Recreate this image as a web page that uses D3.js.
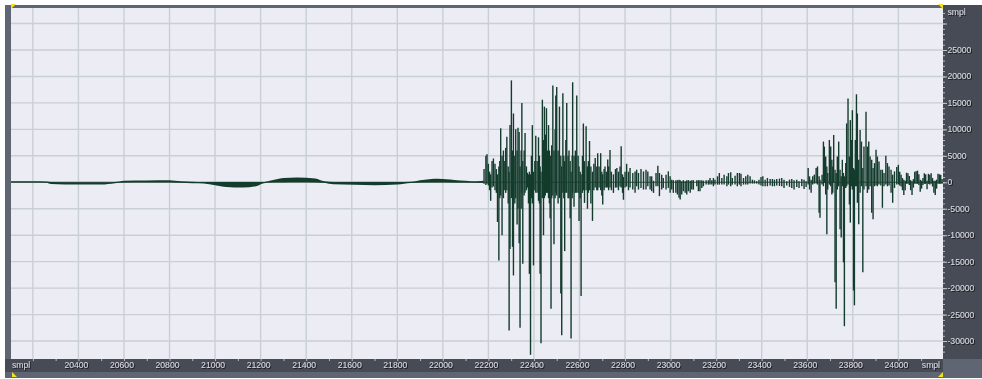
<!DOCTYPE html>
<html>
<head>
<meta charset="utf-8">
<script src="https://cdn.jsdelivr.net/npm/d3@7"></script>
<style>
  body { margin: 0; background: #fff; }
  svg { display: block; }
</style>
</head>
<body>
<svg></svg>
<script>
// axis values
var xGridValues = [20200, 20400, 20600, 20800, 21000, 21200, 21400, 21600, 21800, 22000, 22200, 22400, 22600, 22800, 23000, 23200, 23400, 23600, 23800, 24000]
var xTickLabels = [20400, 20600, 20800, 21000, 21200, 21400, 21600, 21800, 22000, 22200, 22400, 22600, 22800, 23000, 23200, 23400, 23600, 23800, 24000]
var yGridValues = [30000, 25000, 20000, 15000, 10000, 5000, 0, -5000, -10000, -15000, -20000, -25000, -30000]
var yTickLabels = [25000, 20000, 15000, 10000, 5000, 0, -5000, -10000, -15000, -20000, -25000, -30000]
var unitLabel = "smpl"

// quiet part, envelope (sample, max, min)
var quietSamples = [20104, 20200, 20260, 20280, 20400, 20500, 20560, 20600, 20700, 20800, 20850, 20900, 20950, 21000, 21050, 21120, 21180, 21210, 21240, 21300, 21360, 21440, 21480, 21520, 21700, 21800, 21860, 21900, 21980, 22050, 22150, 22180]
var quietMax =     [150, 150, 100, 0, -50, -50, 0, 250, 300, 350, 150, 50, 0, 0, 0, 0, 0, 0, 250, 750, 880, 700, 150, 0, 0, 0, 50, 350, 630, 400, 150, 250]
var quietMin =     [0, 0, -50, -300, -400, -400, -150, 0, 50, 50, -50, -150, -200, -500, -850, -950, -700, -200, 0, 50, 100, 50, -50, -350, -500, -400, -100, 0, 50, 0, -50, -100]

// loud part, one column per entry
var waveSamples = [
  22181, 22189, 22194, 22200, 22205, 22210, 22216, 22222, 22229, 22235, 22240, 22246, 22250, 22254, 22260, 22266, 22272, 22276, 22281, 22287,
  22291, 22295, 22301, 22306, 22310, 22316, 22320, 22326, 22330, 22335, 22339, 22344, 22347, 22351, 22357, 22361, 22367, 22371, 22376, 22380,
  22385, 22389, 22393, 22398, 22404, 22408, 22414, 22420, 22424, 22427, 22431, 22437, 22442, 22446, 22450, 22455, 22459, 22464, 22468, 22471,
  22475, 22478, 22483, 22488, 22493, 22496, 22500, 22506, 22512, 22518, 22522, 22527, 22531, 22535, 22540, 22544, 22550, 22554, 22559, 22563,
  22568, 22570, 22576, 22582, 22588, 22594, 22598, 22603, 22607, 22613, 22617, 22622, 22629, 22635, 22639, 22644, 22650, 22657, 22663, 22669,
  22676, 22680, 22686, 22693, 22698, 22702, 22708, 22712, 22718, 22724, 22728, 22734, 22740, 22749, 22758, 22764, 22771, 22778, 22783, 22789,
  22793, 22800, 22807, 22815, 22822, 22834, 22844, 22851, 22859, 22870, 22881, 22892, 22900, 22910, 22917, 22925, 22936, 22944, 22951, 22961,
  22968, 22980, 22990, 22998, 23005, 23012, 23023, 23030, 23037, 23042, 23049, 23056, 23064, 23071, 23078, 23086, 23093, 23100, 23115, 23122,
  23129, 23137, 23144, 23156, 23166, 23173, 23181, 23188, 23195, 23206, 23214, 23225, 23235, 23247, 23254, 23264, 23271, 23283, 23293, 23302,
  23309, 23320, 23330, 23339, 23349, 23359, 23368, 23378, 23388, 23397, 23405, 23415, 23425, 23437, 23447, 23456, 23466, 23478, 23488, 23498,
  23510, 23522, 23532, 23542, 23554, 23564, 23576, 23586, 23595, 23604, 23610, 23617, 23624, 23631, 23639, 23645, 23652, 23656, 23665, 23671,
  23675, 23681, 23686, 23690, 23697, 23703, 23708, 23712, 23716, 23722, 23727, 23732, 23738, 23744, 23749, 23754, 23759, 23763, 23769, 23773,
  23779, 23785, 23789, 23794, 23798, 23803, 23807, 23811, 23816, 23820, 23826, 23832, 23838, 23844, 23849, 23858, 23864, 23870, 23876, 23883,
  23889, 23895, 23902, 23908, 23915, 23923, 23930, 23937, 23945, 23952, 23959, 23968, 23975, 23983, 23993, 24000, 24006, 24012, 24018, 24024,
  24030, 24036, 24042, 24048, 24054, 24060, 24066, 24072, 24078, 24084, 24090, 24096, 24102, 24108, 24114, 24120, 24126, 24132, 24138, 24144,
  24150, 24156, 24162, 24168, 24174, 24180, 24186, 24192
]
var waveMax = [
  2500, 5000, 5300, 3500, 2000, 1500, 4000, 4500, 3500, 2500, 1500, 3000, 4000, 10200, 5000, 6000, 4000, 6500, 8600, 3000,
  2000, 10800, 19250, 6000, 13000, 5000, 10000, 6000, 10300, 9500, 3000, 6000, 15000, 4000, 6000, 9300, 3000, 1800, 1500, 2000,
  1500, 5000, 10800, 2000, 4000, 8800, 4000, 8500, 5000, 3000, 2000, 15600, 8000, 14300, 9000, 14000, 6000, 10800, 6000, 5000,
  5000, 7000, 18300, 6000, 10000, 16400, 18000, 6000, 14300, 5000, 3000, 16800, 5000, 4000, 8000, 15000, 5000, 6000, 4000, 2000,
  5000, 18900, 5000, 6000, 16400, 5000, 3000, 2000, 1500, 5000, 11100, 4000, 10600, 3000, 4000, 7800, 3000, 2000, 3500, 4600,
  3000, 5500, 3000, 5500, 2000, 1500, 2500, 3000, 2000, 4300, 3000, 6100, 2000, 1500, 2500, 2700, 2000, 3000, 6800, 1500,
  1000, 2000, 3500, 2000, 2700, 1750, 2060, 2375, 1750, 2500, 2060, 2375, 2060, 1125, 1125, 300, 1750, 3125, 1750, 1440,
  810, 1440, 2060, 1125, 500, 400, 400, 400, 500, 400, 200, 400, 200, 400, 400, 300, 400, 400, 400, 400,
  400, 400, 300, 400, 400, 810, 400, 810, 500, 1125, 1750, 810, 1440, 1125, 1750, 1875, 810, 1250, 1750, 1750,
  1625, 810, 1125, 1440, 1125, 500, 375, 200, 500, 1000, 1125, 500, 810, 625, 625, 500, 625, 700, 810, 500,
  190, 500, 625, 375, 500, 190, 625, 500, 200, 2690, 1125, 500, 1125, 1440, 2690, 3000, 1125, 500, 1440, 7690,
  6750, 4875, 3000, 1750, 8000, 6750, 4250, 3000, 8940, 2375, 1750, 4875, 7690, 2375, 1125, 4250, 1750, 1125, 3625, 11125,
  15810, 4875, 11750, 8000, 13625, 2690, 2375, 8000, 16625, 13000, 4250, 9875, 7690, 2690, 6750, 13310, 6750, 7690, 4875, 4250,
  2690, 3625, 6125, 4875, 3940, 2375, 2375, 1750, 5000, 3625, 3000, 2375, 1440, 2060, 2875, 3300, 2000, 1400, 800, 500,
  300, 1800, 1700, 1200, 400, 200, 600, 2000, 2100, 2200, 1500, 500, 300, 800, 1700, 1500, 300, 1600, 1400, 1700,
  800, 300, 300, 500, 1600, 1500, 1400, 600
]
var waveMin = [
  -300, -500, -300, -600, -1500, -3500, -1000, -800, -1500, -2000, -7500, -14800, -3000, -2500, -10000, -3000, -1500, -2000, -1500, -4000,
  -28000, -12600, -3000, -12200, -17600, -4000, -3000, -8000, -5000, -11500, -27500, -5000, -2000, -15400, -2500, -2000, -1500, -1000, -4000, -17300,
  -32600, -3000, -4000, -15700, -1500, -2000, -2000, -3500, -4000, -17300, -30400, -3000, -10000, -3000, -2500, -2000, -2000, -3000, -4000, -6800,
  -23900, -3000, -2500, -11700, -3000, -2000, -2500, -4000, -3000, -21000, -28900, -2000, -3000, -13000, -2000, -2000, -3000, -3000, -6800, -29500,
  -3000, -2000, -4600, -2000, -2000, -2000, -7300, -3000, -21500, -2000, -1500, -3900, -1500, -5000, -2000, -1500, -4000, -7300, -1500, -1000,
  -1500, -1500, -1000, -1500, -2500, -4200, -1500, -1000, -1000, -1000, -1500, -1000, -1500, -2000, -1000, -1000, -1500, -800, -1000, -2000,
  -3300, -1000, -800, -1500, -1000, -1375, -2000, -750, -1375, -1060, -1375, -1375, -750, -1375, -1690, -2000, -750, -750, -2625, -1375,
  -1060, -1375, -1060, -2000, -1375, -2000, -2000, -2310, -2940, -3250, -2310, -1690, -2000, -2310, -1690, -2000, -1375, -1375, -750, -1690,
  -1690, -1060, -750, -440, -440, -440, -440, -750, -440, -440, -440, -440, -440, -750, -440, -750, -440, -440, -750, -440,
  -750, -440, -440, -440, -250, -250, -250, -250, -440, -625, -750, -750, -750, -625, -750, -750, -625, -700, -750, -1060,
  -625, -875, -1060, -1375, -875, -1060, -750, -1250, -875, -440, -1375, -2000, -440, -250, -250, -440, -5750, -6690, -440, -750,
  -125, -2310, -9810, -1375, -440, -750, -2310, -2000, -125, -18875, -23875, -1375, -750, -8875, -10440, -750, -15125, -27190, -1060, -750,
  -440, -4190, -7625, -750, -1375, -20440, -23250, -750, -750, -3875, -7940, -2000, -750, -17000, -1375, -750, -2000, -1375, -750, -5750,
  -7000, -750, -625, -750, -440, -625, -4810, -750, -440, -750, -625, -2000, -3875, -1060, -440, -400, -600, -800, -1500, -2400,
  -1500, -300, -300, -500, -1500, -2400, -1000, -300, -300, -300, -500, -1800, -1200, -500, -300, -300, -1300, -300, -400, -300,
  -800, -2000, -2400, -1200, -300, -300, -300, -300
]

var width = 982
var height = 379
var plot = {left: 11, top: 8, right: 943, bottom: 359}
var waveColor = "#143c2d"
var labelColor = "#d8dbe0"

var x = d3.scaleLinear().domain([20104, 24196]).range([plot.left, plot.right])
var y = d3.scaleLinear().domain([32930, -33390]).range([plot.top, plot.bottom])

var svg = d3.select("svg")
    .attr("width", width)
    .attr("height", height)

var defs = svg.append("defs")
defs.append("clipPath").attr("id", "plotclip")
  .append("rect")
    .attr("x", plot.left).attr("y", plot.top)
    .attr("width", plot.right - plot.left).attr("height", plot.bottom - plot.top)
defs.append("filter").attr("id", "shadow")
    .attr("x", "-20%").attr("y", "-20%").attr("width", "140%").attr("height", "140%")
  .append("feDropShadow")
    .attr("dx", 1).attr("dy", 1).attr("stdDeviation", 0)
    .attr("flood-color", "#15171c").attr("flood-opacity", 0.9)

// frame
svg.append("rect").attr("x", 5).attr("y", 5).attr("width", width - 5).attr("height", 373).attr("fill", "#5f6573")
svg.append("rect").attr("x", plot.right).attr("y", 5).attr("width", width - plot.right).attr("height", plot.bottom - 5).attr("fill", "#474b55")
svg.append("rect").attr("x", 5).attr("y", plot.bottom).attr("width", plot.right - 5).attr("height", 13).attr("fill", "#474b55")
svg.append("rect").attr("x", plot.left).attr("y", plot.top).attr("width", plot.right - plot.left).attr("height", plot.bottom - plot.top).attr("fill", "#ececf4")

// grid
var grid = svg.append("g").attr("class", "grid")
grid.selectAll("line.v")
    .data(xGridValues)
    .enter().append("line")
    .attr("class", "v")
    .attr("x1", d => x(d)).attr("x2", d => x(d))
    .attr("y1", plot.top).attr("y2", plot.bottom)
grid.selectAll("line.h")
    .data(yGridValues)
    .enter().append("line")
    .attr("class", "h")
    .attr("x1", plot.left).attr("x2", plot.right)
    .attr("y1", d => y(d)).attr("y2", d => y(d))
grid.selectAll("line")
    .attr("stroke", "#c8d0d1")
    .attr("stroke-width", 1.4)

// waveform
var wave = svg.append("g").attr("clip-path", "url(#plotclip)")

wave.append("line")
    .attr("x1", plot.left).attr("x2", plot.right)
    .attr("y1", y(0)).attr("y2", y(0))
    .attr("stroke", "#4f625a")
    .attr("stroke-width", 1)

var quietArea = d3.area()
    .x((d, i) => x(quietSamples[i]))
    .y0((d, i) => y(quietMin[i]) + 0.2)
    .y1((d, i) => y(quietMax[i]) - 0.2)
    .curve(d3.curveMonotoneX)

wave.append("path")
    .datum(quietSamples)
    .attr("d", quietArea)
    .attr("fill", waveColor)

wave.selectAll("line.col")
    .data(waveSamples)
    .enter().append("line")
    .attr("class", "col")
    .attr("x1", d => x(d)).attr("x2", d => x(d))
    .attr("y1", (d, i) => y(waveMax[i]))
    .attr("y2", (d, i) => y(waveMin[i]))
    .attr("stroke", waveColor)
    .attr("stroke-width", 1.4)

// bottom axis
var bottomTicks = d3.axisBottom(x)
    .tickValues(d3.range(20200, 24101, 100))
    .tickSize(2)
    .tickFormat("")
var bAxis = svg.append("g")
    .attr("transform", "translate(0," + plot.bottom + ")")
    .call(bottomTicks)
bAxis.select(".domain").remove()
bAxis.selectAll(".tick line").attr("stroke", "#b8bcc4")

var bottomLabels = svg.append("g").attr("filter", "url(#shadow)")
    .style("font-family", "'Liberation Sans', Arial, sans-serif")
    .style("font-size", "8.6px")
    .attr("fill", labelColor)
bottomLabels.selectAll("text.num")
    .data(xTickLabels)
    .enter().append("text")
    .attr("class", "num")
    .attr("x", d => x(d) - 2)
    .attr("y", 368)
    .attr("text-anchor", "middle")
    .text(d => d)
bottomLabels.append("text").attr("x", 12).attr("y", 368).text(unitLabel)
bottomLabels.append("text").attr("x", 940).attr("y", 368).attr("text-anchor", "end").text(unitLabel)

// right axis
var rightMinor = d3.axisRight(y)
    .tickValues(d3.range(-32000, 32001, 1000))
    .tickSize(2)
    .tickFormat("")
var rAxis = svg.append("g")
    .attr("transform", "translate(" + plot.right + ",0)")
    .call(rightMinor)
rAxis.select(".domain").remove()
rAxis.selectAll(".tick line").attr("stroke", "#b8bcc4")

var rightMajor = d3.axisRight(y)
    .tickValues(yGridValues)
    .tickSize(4)
    .tickFormat("")
var rAxis2 = svg.append("g")
    .attr("transform", "translate(" + plot.right + ",0)")
    .call(rightMajor)
rAxis2.select(".domain").remove()
rAxis2.selectAll(".tick line").attr("stroke", "#c4c8cf")

var rightLabels = svg.append("g").attr("filter", "url(#shadow)")
    .style("font-family", "'Liberation Sans', Arial, sans-serif")
    .style("font-size", "8.6px")
    .attr("fill", labelColor)
rightLabels.selectAll("text.num")
    .data(yTickLabels)
    .enter().append("text")
    .attr("class", "num")
    .attr("x", 947.5)
    .attr("y", d => y(d) + 3)
    .text(d => d)
rightLabels.append("text").attr("x", 947.5).attr("y", 15).text(unitLabel)

// selection markers
var markers = [
  [[11, 4], [16, 4], [11, 9]],
  [[938, 4], [943, 4], [943, 9]],
  [[12, 372], [12, 377], [17, 377]],
  [[943, 372], [943, 377], [938, 377]]
]
svg.selectAll("polygon.marker")
    .data(markers)
    .enter().append("polygon")
    .attr("class", "marker")
    .attr("points", d => d.map(p => p.join(",")).join(" "))
    .attr("fill", "#f2e21c")
</script>
</body>
</html>
